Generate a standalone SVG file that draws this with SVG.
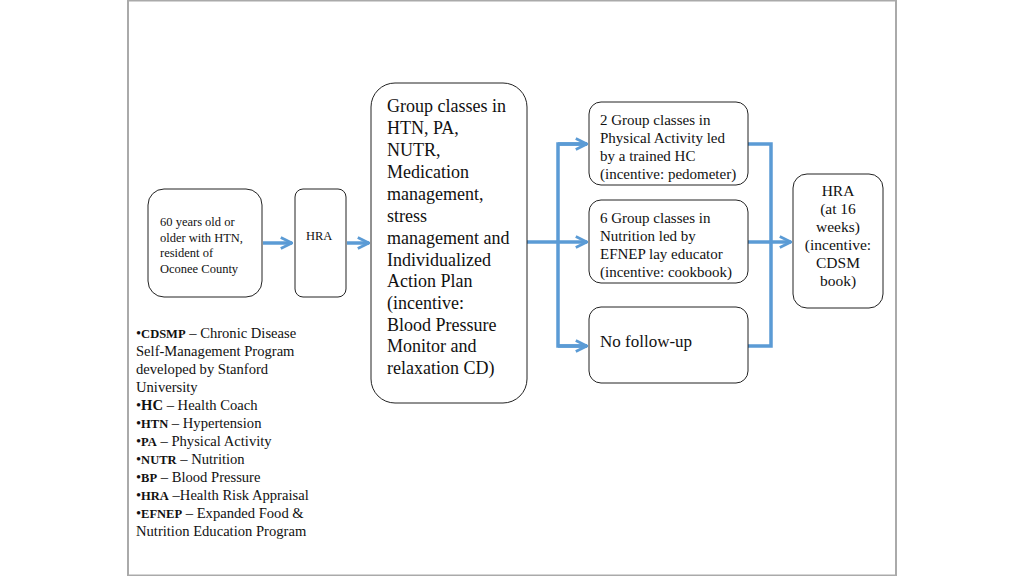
<svg xmlns="http://www.w3.org/2000/svg" width="1024" height="576" viewBox="0 0 1024 576">
<defs>
<style>
.box{fill:#fff;stroke:#222;stroke-width:1}
.t{font-family:"Liberation Serif","Times New Roman",serif;fill:#111}
.s{font-size:12.5px}
.a{font-size:15px}
.m{font-size:18px}
.l{font-size:15.5px}
.g{font-size:14.6px}
.b{font-weight:bold;font-size:12.5px}
.conn{fill:none;stroke:#5B9BD5;stroke-width:3.5}
</style>
<marker id="ah" viewBox="0 0 10 10" refX="9" refY="5" markerWidth="4" markerHeight="4" markerUnits="strokeWidth" orient="auto">
<path d="M1,1 L9,5 L1,9" fill="none" stroke="#5B9BD5" stroke-width="2"/>
</marker>
</defs>
<rect x="0" y="0" width="1024" height="576" fill="#fff"/>
<rect x="128" y="0.5" width="768" height="575" fill="#fff" stroke="#aaa" stroke-width="2"/>

<g id="connectors">
<line class="conn" x1="263" y1="243" x2="292" y2="243" marker-end="url(#ah)"/>
<line class="conn" x1="347" y1="243" x2="369" y2="243" marker-end="url(#ah)"/>
<line class="conn" x1="527" y1="242" x2="558" y2="242"/>
<polyline class="conn" points="587,144 558,144 558,346 587,346"/>
<line class="conn" x1="558" y1="144" x2="587" y2="144" marker-end="url(#ah)"/>
<line class="conn" x1="558" y1="242" x2="587" y2="242" marker-end="url(#ah)"/>
<line class="conn" x1="558" y1="346" x2="587" y2="346" marker-end="url(#ah)"/>
<polyline class="conn" points="748,144 771,144 771,346 748,346"/>
<line class="conn" x1="748" y1="242" x2="771" y2="242"/>
<line class="conn" x1="771" y1="242" x2="791" y2="242" marker-end="url(#ah)"/>
</g>

<g id="n1">
<rect class="box" x="148" y="189" width="114" height="108" rx="16"/>
<text class="t s"><tspan x="160" y="226">60 years old or</tspan><tspan x="160" y="242">older with HTN,</tspan><tspan x="160" y="257">resident of</tspan><tspan x="160" y="273">Oconee County</tspan></text>
</g>

<g id="n2">
<rect class="box" x="295" y="189" width="51" height="108" rx="8"/>
<text class="t s" x="306" y="240">HRA</text>
</g>

<g id="n3">
<rect class="box" x="371" y="83" width="156" height="320" rx="24"/>
<text class="t m"><tspan x="387" y="112">Group classes in</tspan><tspan x="387" y="134">HTN, PA,</tspan><tspan x="387" y="156">NUTR,</tspan><tspan x="387" y="178">Medication</tspan><tspan x="387" y="200">management,</tspan><tspan x="387" y="222">stress</tspan><tspan x="387" y="244">management and</tspan><tspan x="387" y="266">Individualized</tspan><tspan x="387" y="287">Action Plan</tspan><tspan x="387" y="309">(incentive:</tspan><tspan x="387" y="331">Blood Pressure</tspan><tspan x="387" y="352">Monitor and</tspan><tspan x="387" y="374">relaxation CD)</tspan></text>
</g>

<g id="n4">
<rect class="box" x="589" y="102" width="159" height="83" rx="12"/>
<text class="t a"><tspan x="600" y="125">2 Group classes in</tspan><tspan x="600" y="143">Physical Activity led</tspan><tspan x="600" y="161">by a trained HC</tspan><tspan x="600" y="179">(incentive: pedometer)</tspan></text>
</g>

<g id="n5">
<rect class="box" x="589" y="200" width="159" height="83" rx="12"/>
<text class="t a"><tspan x="600" y="223">6 Group classes in</tspan><tspan x="600" y="241">Nutrition led by</tspan><tspan x="600" y="259">EFNEP lay educator</tspan><tspan x="600" y="277">(incentive: cookbook)</tspan></text>
</g>

<g id="n6">
<rect class="box" x="589" y="307" width="159" height="76" rx="12"/>
<text class="t" style="font-size:17px" x="600" y="347">No follow-up</text>
</g>

<g id="n7">
<rect class="box" x="793" y="174" width="90" height="134" rx="14"/>
<text class="t l" text-anchor="middle"><tspan x="838" y="196">HRA</tspan><tspan x="838" y="214">(at 16</tspan><tspan x="838" y="232">weeks)</tspan><tspan x="838" y="250">(incentive:</tspan><tspan x="838" y="268">CDSM</tspan><tspan x="838" y="286">book)</tspan></text>
</g>

<g id="legend">
<text class="t g">
<tspan x="136" y="338">•<tspan class="b">CDSMP</tspan> – Chronic Disease</tspan>
<tspan x="136" y="356">Self-Management Program</tspan>
<tspan x="136" y="374">developed by Stanford</tspan>
<tspan x="136" y="392">University</tspan>
<tspan x="136" y="410">•<tspan font-weight="bold">HC</tspan> – Health Coach</tspan>
<tspan x="136" y="428">•<tspan class="b">HTN</tspan> – Hypertension</tspan>
<tspan x="136" y="446">•<tspan class="b">PA</tspan> – Physical Activity</tspan>
<tspan x="136" y="464">•<tspan class="b">NUTR</tspan> – Nutrition</tspan>
<tspan x="136" y="482">•<tspan class="b">BP</tspan> – Blood Pressure</tspan>
<tspan x="136" y="500">•<tspan class="b">HRA</tspan> –Health Risk Appraisal</tspan>
<tspan x="136" y="518">•<tspan class="b">EFNEP</tspan> – Expanded Food &amp;</tspan>
<tspan x="136" y="536">Nutrition Education Program</tspan>
</text>
</g>
</svg>
